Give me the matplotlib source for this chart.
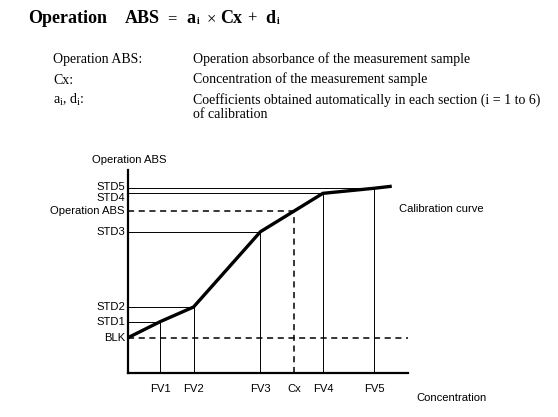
import matplotlib
matplotlib.use('Agg')
import matplotlib.pyplot as plt
import matplotlib.transforms as mtransforms

# calibration points (concentration, absorbance)
fv_labels = ['FV1', 'FV2', 'FV3', 'FV4', 'FV5']
fv_conc = [1.15, 2.34, 4.73, 6.96, 8.79]
std_labels = ['STD1', 'STD2', 'STD3', 'STD4', 'STD5']
std_abs = [0.253, 0.325, 0.696, 0.885, 0.910]
blk_abs = 0.174
end_conc, end_abs = 9.42, 0.920
cx_conc = 5.92
op_abs = 0.797

curve_x = [0.0] + fv_conc + [end_conc]
curve_y = [blk_abs] + std_abs + [end_abs]

W, H = 558, 417
fig = plt.figure(figsize=(W / 100, H / 100), dpi=100)
fig.patch.set_facecolor('white')

serif = 'Liberation Serif'
sans = 'Liberation Sans'

# formula heading
def ftext(x, y, s, size=13, weight='bold'):
    fig.text(x / W, 1 - y / H, s, fontsize=size, fontweight=weight,
             family=serif, va='baseline', ha='left')

ftext(28, 23, 'Operation')
ftext(125, 23, 'ABS')
ftext(167, 23, '=', weight='normal', size=12)
ftext(186, 23, 'a')
ftext(196.5, 24.5, 'i', size=7)
ftext(207, 23, '\u00d7', weight='normal', size=12)
ftext(220, 23, 'Cx')
ftext(247, 23, '+', weight='normal', size=12)
ftext(265, 23, 'd')
ftext(277, 24.5, 'i', size=7)

# legend of symbols
rows = [
    (63.5, 'Operation ABS:', 'Operation absorbance of the measurement sample'),
    (83.5, 'Cx:', 'Concentration of the measurement sample'),
    (103.5, 'a$_\\mathregular{i}$, d$_\\mathregular{i}$:',
     'Coefficients obtained automatically in each section (i = 1 to 6)'),
    (118, '', 'of calibration'),
]
for y, a, b in rows:
    if a:
        fig.text(53 / W, 1 - y / H, a, fontsize=10, family=serif,
                 va='baseline')
    fig.text(193 / W, 1 - y / H, b, fontsize=10, family=serif, va='baseline')

# chart
x0, x1, yb, yt = 128, 408, 373, 170
ax = fig.add_axes([x0 / W, 1 - yb / H, (x1 - x0) / W, (yb - yt) / H])
ax.set_xlim(0, 10)
ax.set_ylim(0, 1)
for s in ['top', 'right']:
    ax.spines[s].set_visible(False)
for s in ['left', 'bottom']:
    ax.spines[s].set_linewidth(1.6)
ax.set_xticks([])
ax.set_yticks([])

thin = dict(color='black', lw=0.7)
for x, y in zip(fv_conc, std_abs):
    ax.plot([x, x], [0, y], **thin)
    ax.plot([0, x], [y, y], **thin)

dash = dict(color='black', lw=1.1, ls=(0, (4, 3)))
ax.plot([0, 10], [blk_abs, blk_abs], **dash)
ax.plot([cx_conc, cx_conc], [0, op_abs], **dash)
ax.plot([0, cx_conc], [op_abs, op_abs], **dash)

ax.plot(curve_x, curve_y, color='black', lw=2.4, solid_capstyle='butt',
        solid_joinstyle='miter')

# axis labels
fs = 8.1
ylab_tr = mtransforms.blended_transform_factory(ax.transAxes, ax.transData)
lab = dict(fontsize=fs, family=sans, ha='right', va='center')
ylabels = [('BLK', blk_abs, 0), ('STD1', std_abs[0], 0), ('STD2', std_abs[1], 0),
           ('STD3', std_abs[2], 0), ('Operation ABS', op_abs, 0),
           ('STD4', std_abs[3], -5), ('STD5', std_abs[4], 1)]
for name, y, dy in ylabels:
    off = mtransforms.offset_copy(ylab_tr, fig=fig, x=-3, y=dy, units='dots')
    ax.text(0, y, name, transform=off, **lab)

xlab_tr = mtransforms.blended_transform_factory(ax.transData, ax.transAxes)
xlabels = list(zip(fv_labels, fv_conc)) + [('Cx', cx_conc)]
for name, x in xlabels:
    off = mtransforms.offset_copy(xlab_tr, fig=fig, x=0, y=-16, units='dots')
    ax.text(x, 0, name, transform=off, fontsize=fs, family=sans,
            ha='center', va='center')

fig.text(129 / W, 1 - 160 / H, 'Operation ABS', fontsize=fs, family=sans,
         ha='center', va='center')
fig.text(399 / W, 1 - 209 / H, 'Calibration curve', fontsize=fs, family=sans,
         ha='left', va='center')
fig.text(416 / W, 1 - 398 / H, 'Concentration', fontsize=fs, family=sans,
         ha='left', va='center')

fig.savefig('out.png', dpi=100, facecolor='white')
